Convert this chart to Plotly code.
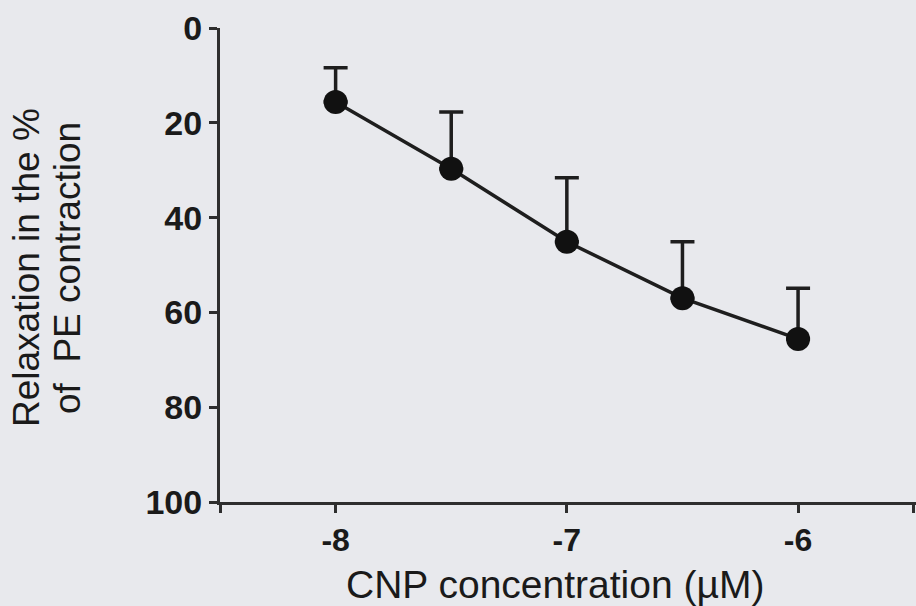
import plotly.graph_objects as go

# Data
log_conc = [-8.0, -7.5, -7.0, -6.5, -6.0]
relaxation = [15.6, 29.7, 45.1, 57.0, 65.6]
sem = [7.2, 12.0, 13.5, 11.9, 10.7]
x_tickvals = [-8.5, -8, -7, -6, -5.5]
x_ticktext = ["", "-8", "-7", "-6", ""]
y_tickvals = [0, 20, 40, 60, 80, 100]
y_title_lines = ["Relaxation in the %", "of  PE contraction"]
x_title = "CNP concentration (µM)"

BG = "#e8e9ed"
AX = "#2e2e2e"
TXT = "#1a1a1a"
FONT = "Liberation Sans, Arial, sans-serif"

fig = go.Figure()
fig.add_trace(go.Scatter(
    x=log_conc, y=relaxation,
    mode="lines+markers",
    line=dict(color="#1e1e1e", width=3.5),
    marker=dict(color="#111111", size=24),
    error_y=dict(type="data", symmetric=False,
                 array=[0] * len(sem), arrayminus=sem,
                 color="#1e1e1e", thickness=3.5, width=12),
    showlegend=False,
))

fig.update_layout(
    width=916, height=606,
    margin=dict(l=220, r=0, t=28, b=104),
    paper_bgcolor=BG, plot_bgcolor=BG,
    font=dict(family=FONT, color=TXT),
)
fig.update_xaxes(
    range=[-8.5, -5.49], tickvals=x_tickvals, ticktext=x_ticktext,
    showgrid=False, zeroline=False, showline=True, linecolor=AX, linewidth=3,
    ticks="outside", ticklen=8, tickwidth=3, tickcolor=AX,
    tickfont=dict(size=32, family=FONT, weight="bold", color=TXT),
)
fig.update_yaxes(
    range=[100, 0], tickvals=y_tickvals,
    showgrid=False, zeroline=False, showline=True, linecolor=AX, linewidth=3,
    ticks="outside", ticklen=8, tickwidth=3, tickcolor=AX,
    tickfont=dict(size=34, family=FONT, weight="bold", color=TXT),
)
fig.add_annotation(
    text=x_title, xref="paper", yref="paper",
    x=(555 - 220) / 696, y=-(584 - 502) / 474, xanchor="center", yanchor="middle",
    showarrow=False, font=dict(size=39, color=TXT),
)
for line_text, px in zip(y_title_lines, [26, 67]):
    fig.add_annotation(
        text=line_text, xref="paper", yref="paper",
        x=-(220 - px) / 696, y=(502 - 268) / 474, xanchor="center", yanchor="middle",
        textangle=-90, showarrow=False, font=dict(size=37, color=TXT),
    )

fig.write_html("out.html")
